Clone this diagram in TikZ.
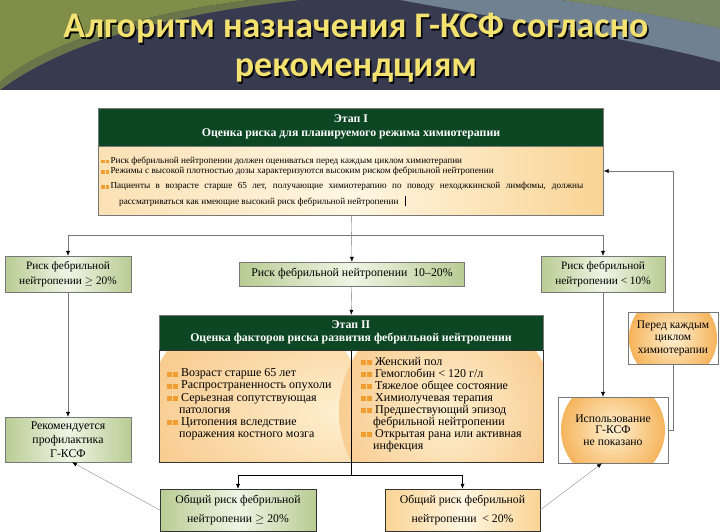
\documentclass[tikz,border=0pt]{standalone}
\usepackage{fontspec}
\setmainfont{Liberation Serif}
\newfontfamily\titlefont{Carlito}
\usepackage{tikz}
\usetikzlibrary{positioning,shapes,arrows.meta,calc,backgrounds}
\definecolor{bannerdark}{RGB}{56,58,80}
\definecolor{bannergreen}{RGB}{128,142,72}
\definecolor{bannerblue}{RGB}{112,130,145}
\definecolor{titleyellow}{RGB}{244,226,112}
\definecolor{stagegreen}{RGB}{12,70,34}
\definecolor{paleorange}{RGB}{249,212,148}
\definecolor{cream}{RGB}{255,246,226}
\definecolor{glowcore}{RGB}{254,240,208}
\definecolor{glowedge}{RGB}{245,178,88}
\definecolor{sage}{RGB}{184,204,148}
\definecolor{sagelight}{RGB}{240,244,228}
\definecolor{bulletorange}{RGB}{240,158,48}
\definecolor{linegrey}{RGB}{120,120,120}
\newcommand{\bul}{{\color{bulletorange}\rule{3.5pt}{3.5pt}\hspace{0.8pt}\rule{3.5pt}{3.5pt}}\hspace{1.5pt}}
\newcommand{\bigbul}{{\color{bulletorange}\rule{5pt}{5pt}\hspace{1pt}\rule{5pt}{5pt}}\hspace{3pt}}

\begin{document}
\begin{tikzpicture}[x=1pt, y=-1pt,
stage/.style ={rectangle, fill=stagegreen, draw=linegrey, text=white, align=center, inner sep=0pt, font=\bfseries\fontsize{11.8}{13.5}\selectfont},
riskbox/.style ={rectangle, draw=linegrey, left color=sage, right color=sage, middle color=sagelight, align=center, inner sep=0pt, font=\fontsize{11.3}{15}\selectfont},
warmbox/.style ={rectangle, draw=black!80, left color=paleorange, right color=paleorange, middle color=cream, align=center, inner sep=0pt, font=\fontsize{11.7}{19}\selectfont},
glowbox/.style ={rectangle, draw=linegrey, fill=white, align=center, inner sep=0pt, font=\fontsize{11.7}{11.5}\selectfont,
  path picture={\fill[inner color=glowcore, outer color=glowedge] (path picture bounding box.center) circle (#1);}},
item/.style ={anchor=west, inner sep=0pt},
input/.style ={-{Latex[length=5pt,width=4pt,color=black]}, linegrey},
connection/.style ={-, linegrey},
]

% title banner
\fill[bannerdark] (0,0) rectangle (720,90);
\fill[bannergreen] (0,0) -- (250,0) .. controls (150,12) and (50,40) .. (0,82) -- cycle;
\fill[bannergreen!70!bannerdark] (250,0) .. controls (150,12) and (50,40) .. (0,82) -- (0,90) .. controls (60,45) and (160,15) .. (300,0) -- cycle;
\fill[bannerblue] (400,0) .. controls (520,22) and (630,38) .. (720,62) -- (720,28) .. controls (650,14) and (600,5) .. (560,0) -- cycle;
\fill[bannergreen!60!bannerblue] (560,0) .. controls (600,5) and (650,14) .. (720,28) -- (720,0) -- cycle;
\node (TITLESHADOW) [text=black, align=center, font=\titlefont\bfseries\fontsize{36}{39}\selectfont] at (357.5,49.5) {Алгоритм назначения Г-КСФ согласно\\рекомендциям};
\node (TITLE) [text=titleyellow, align=center, font=\titlefont\bfseries\fontsize{36}{39}\selectfont] at (356,48) {Алгоритм назначения Г-КСФ согласно\\рекомендциям};

% stage I
\node (ONEHEAD) [stage, minimum width=505, minimum height=38] at (351,127) {Этап I\\Оценка риска для планируемого режима химиотерапии};
\node (ONEBODY) [rectangle, draw=linegrey, left color=paleorange!70, right color=paleorange, middle color=cream, minimum width=505, minimum height=69] at (351,180.5) {};
\node (ONEA) [item, font=\fontsize{9.2}{10}\selectfont] at (101,161) {\bul Риск фебрильной нейтропении должен оцениваться перед каждым циклом химиотерапии};
\node (ONEB) [item, font=\fontsize{9.2}{10}\selectfont] at (101,171.5) {\bul Режимы с высокой плотностью дозы характеризуются высоким риском фебрильной нейтропении};
\node (ONEC) [anchor=north west, inner sep=0pt, text width=482, align=justify, font=\fontsize{9.2}{15.5}\selectfont] at (101,182) {\bul Пациенты в возрасте старше 65 лет, получающие химиотерапию по поводу неходжкинской лимфомы, должны\linebreak\hspace*{18pt}рассматриваться как имеющие высокий риск фебрильной нейтропении \hspace{4pt}\rule[-2pt]{1.6pt}{10pt}};

% risk levels
\coordinate (SPLITONE) at (351,235);
\node (RISKHIGH) [riskbox, minimum width=126, minimum height=36] at (68,274) {Риск фебрильной\\нейтропении $\geq$ 20\%};
\node (RISKMID) [riskbox, minimum width=225, minimum height=24, font=\fontsize{11.8}{13}\selectfont] at (352,274) {Риск фебрильной нейтропении\ \ 10–20\%};
\node (RISKLOW) [riskbox, minimum width=124, minimum height=36] at (603,274) {Риск фебрильной\\нейтропении < 10\%};

% stage II
\node (TWOHEAD) [stage, minimum width=384, minimum height=35] at (351,332.5) {Этап II\\Оценка факторов риска развития фебрильной нейтропении};
\node (TWOBODY) [rectangle, draw=black!80, fill=white, minimum width=384, minimum height=112,
  path picture={
    \fill[inner color=glowcore, outer color=glowedge!65] ($(path picture bounding box.center)+(-95,6)$) circle (108pt);
    \fill[inner color=glowcore, outer color=glowedge!65] ($(path picture bounding box.center)+(96,6)$) circle (108pt);
  }] at (351,406) {};
\draw[black] (TWOBODY.north) -- (TWOBODY.south);
\node (TWOLEFT) [anchor=north west, inner sep=0pt, align=left, font=\fontsize{12}{12.2}\selectfont] at (167,368.5) {\bigbul Возраст старше 65 лет\\\bigbul Распространенность опухоли\\\bigbul Серьезная сопутствующая\\\hspace*{12pt}патология\\\bigbul Цитопения вследствие\\\hspace*{12pt}поражения костного мозга};
\node (TWORIGHT) [anchor=north west, inner sep=0pt, align=left, font=\fontsize{12}{12}\selectfont] at (361,357) {\bigbul Женский пол\\\bigbul Гемоглобин < 120 г/л\\\bigbul Тяжелое общее состояние\\\bigbul Химиолучевая терапия\\\bigbul Предшествующий эпизод\\\hspace*{12pt}фебрильной нейтропении\\\bigbul Открытая рана или активная\\\hspace*{12pt}инфекция};

% outcomes
\node (ADVISE) [riskbox, minimum width=126, minimum height=45, font=\fontsize{11.8}{14}\selectfont] at (68,439.5) {Рекомендуется\\профилактика\\Г-КСФ};
\node (NOTSHOWN) [glowbox=52pt, minimum width=110, minimum height=66] at (613,430) {Использование\\Г-КСФ\\не показано};
\node (EACHCYCLE) [glowbox=44pt, minimum width=90, minimum height=52, font=\fontsize{11.5}{12.5}\selectfont] at (673,338) {Перед каждым\\циклом\\химиотерапии};

\coordinate (SPLITTWO) at (351,475);
\node (TOTALHIGH) [warmbox, left color=sage, right color=sage, middle color=sagelight, minimum width=156, minimum height=42] at (238,510) {Общий риск фебрильной\\нейтропении $\geq$ 20\%};
\node (TOTALLOW) [warmbox, minimum width=155, minimum height=42] at (462.5,510) {Общий риск фебрильной\\нейтропении\ \ < 20\%};

\draw[input] (ONEBODY) -- (RISKMID);
\draw[input] (SPLITONE) -| (RISKHIGH);
\draw[input] (SPLITONE) -| (RISKLOW);
\draw[input] (RISKMID) -- (TWOHEAD);
\draw[input] (RISKHIGH) -- (ADVISE);
\draw[input] (RISKLOW.south) -- (RISKLOW.south |- NOTSHOWN.north);
\draw[connection] (NOTSHOWN.east) -| (EACHCYCLE.south);
\draw[input] (EACHCYCLE.north) |- ([yshift=9.5pt]ONEBODY.east);
\draw[connection, black] (TWOBODY.south) -- (SPLITTWO);
\draw[input, black] (SPLITTWO) -| (TOTALHIGH);
\draw[input, black] (SPLITTWO) -| (TOTALLOW);
\draw[input, black!45] (TOTALHIGH.west) -- ([xshift=4pt]ADVISE.south);
\draw[input, black!45] (TOTALLOW.east) -- ([xshift=-11pt]NOTSHOWN.south);

\end{tikzpicture}
\end{document}
